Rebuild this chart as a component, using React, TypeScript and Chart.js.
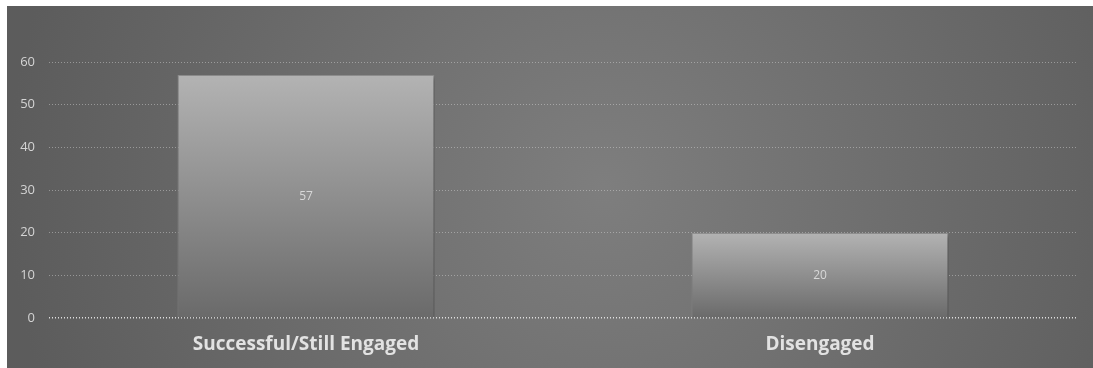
import React, { useEffect, useRef } from "react";
import { Chart, registerables } from "chart.js";

Chart.register(...registerables);

const categories = ["Successful/Still Engaged", "Disengaged"];
const values = [57, 20];
const yTicks = [0, 10, 20, 30, 40, 50, 60];

const bgPlugin = {
  id: "bgPlugin",
  beforeDraw(chart: any) {
    const { ctx, width, height } = chart;
    ctx.save();
    const g = ctx.createRadialGradient(width * 0.55, height * 0.5, 0, width * 0.55, height * 0.5, width * 0.55);
    g.addColorStop(0, "#7e7e7e");
    g.addColorStop(1, "#5c5c5c");
    ctx.fillStyle = g;
    ctx.fillRect(0, 0, width, height);
    ctx.restore();
  },
  beforeDatasetsDraw(chart: any) {
    const ctx = chart.ctx;
    ctx.save();
    ctx.shadowColor = "rgba(0,0,0,0.35)";
    ctx.shadowBlur = 4;
    ctx.shadowOffsetX = 2;
    ctx.shadowOffsetY = 2;
  },
  afterDatasetsDraw(chart: any) {
    const ctx = chart.ctx;
    ctx.restore();
    const meta = chart.getDatasetMeta(0);
    ctx.save();
    ctx.fillStyle = "#d8d8d8";
    ctx.font = "12px 'Open Sans', sans-serif";
    ctx.textAlign = "center";
    ctx.textBaseline = "middle";
    meta.data.forEach((bar: any, i: number) => {
      const y = (bar.y + bar.base) / 2;
      ctx.fillText(String(values[i]), bar.x, y + 1);
    });
    ctx.restore();
  },
};

export default function App() {
  const ref = useRef<HTMLCanvasElement>(null);
  useEffect(() => {
    const canvas = ref.current!;
    const chart = new Chart(canvas, {
      type: "bar",
      data: {
        labels: categories,
        datasets: [
          {
            data: values,
            backgroundColor: (c: any) => {
              const area = c.chart.chartArea;
              if (!area) return "#999";
              const top = c.chart.scales.y.getPixelForValue(values[c.dataIndex]);
              const bottom = c.chart.scales.y.getPixelForValue(0);
              const g = c.chart.ctx.createLinearGradient(0, top, 0, bottom);
              g.addColorStop(0, "#b3b3b3");
              g.addColorStop(1, "#6a6a6a");
              return g;
            },
            borderColor: "rgba(150,150,150,0.8)",
            borderWidth: 1,
            borderSkipped: "bottom",
            categoryPercentage: 1,
            barPercentage: 0.5,
          },
        ],
      },
      options: {
        animation: false,
        responsive: false,
        maintainAspectRatio: false,
        layout: { padding: { top: 56, right: 16, left: 0, bottom: 0 } },
        plugins: { legend: { display: false }, tooltip: { enabled: false } },
        scales: {
          x: {
            grid: { display: false, drawTicks: false },
            border: { display: false },
            ticks: {
              color: "#e2e2e2",
              font: { family: "'Open Sans', sans-serif", size: 19, weight: "bold" },
              padding: 15,
            },
            afterFit(scale: any) {
              scale.height = 50;
            },
          },
          y: {
            min: 0,
            max: 60,
            afterBuildTicks(scale: any) {
              scale.ticks = yTicks.map((v) => ({ value: v }));
            },
            grid: {
              drawTicks: false,
              color: (c: any) => (c.tick && c.tick.value === 0 ? "rgba(235,235,235,0.9)" : "rgba(220,220,220,0.45)"),
              lineWidth: (c: any) => (c.tick && c.tick.value === 0 ? 1.5 : 1),
            },
            border: { display: false, dash: [1, 2] },
            ticks: {
              color: "#d4d4d4",
              font: { family: "'Open Sans', sans-serif", size: 13 },
              padding: 14,
            },
            afterFit(scale: any) {
              scale.width = 42;
            },
          },
        },
      },
      plugins: [bgPlugin],
    });
    return () => chart.destroy();
  }, []);
  return (
    <div style={{ position: "fixed", left: 7, top: 6, width: 1086, height: 362, background: "#666" }}>
      <canvas ref={ref} width={1086} height={362} style={{ display: "block", width: 1086, height: 362 }} />
    </div>
  );
}
